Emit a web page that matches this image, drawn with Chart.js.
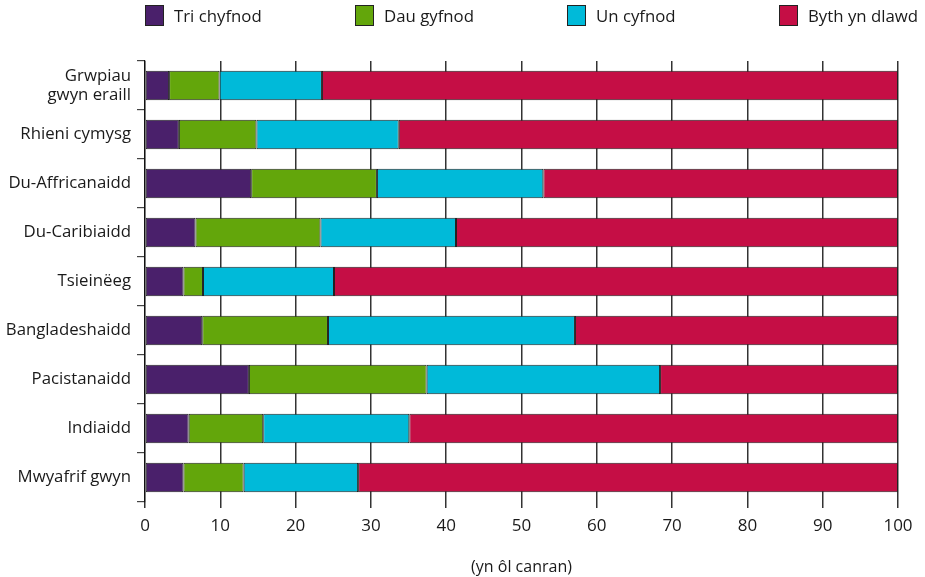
<!DOCTYPE html>
<html>
<head>
<meta charset="utf-8">
<script src="https://cdn.jsdelivr.net/npm/chart.js@4"></script>
<style>
  html, body { margin: 0; padding: 0; background: #fff; }
  #wrap { position: relative; width: 925px; height: 577px; }
  canvas { position: absolute; left: 0; top: 0; }
  .leg { position: absolute; top: 5px; height: 22px; font-family: "Open Sans", sans-serif; font-size: 16.8px; color: #1a1a1a; line-height: 22px; white-space: nowrap; }
  .leg span.box { display: inline-block; width: 19px; height: 21px; vertical-align: top; margin-right: 10px; box-sizing: border-box; border: 1px solid #222; }
</style>
</head>
<body>
<div id="wrap">
  <canvas id="c" width="925" height="577"></canvas>
  <div id="legend"></div>
</div>
<script>
const categories = [["Grwpiau", "gwyn eraill"], "Rhieni cymysg", "Du-Affricanaidd", "Du-Caribiaidd", "Tsieinëeg", "Bangladeshaidd", "Pacistanaidd", "Indiaidd", "Mwyafrif gwyn"];
const seriesNames = ["Tri chyfnod", "Dau gyfnod", "Un cyfnod", "Byth yn dlawd"];
const triChyfnod  = [3.2, 4.5, 14.1, 6.7, 5.1, 7.6, 13.8, 5.8, 5.1];
const dauGyfnod   = [6.7, 10.3, 16.7, 16.6, 2.6, 16.7, 23.6, 9.9, 8.0];
const unCyfnod    = [13.6, 18.9, 22.1, 18.0, 17.4, 32.8, 31.0, 19.4, 15.2];
const bythYnDlawd = [76.5, 66.3, 47.1, 58.7, 74.9, 42.9, 31.6, 64.9, 71.7];
const colors = ["#4a206b", "#63a60b", "#00bad9", "#c50e45"];
const axisTitle = "(yn ôl canran)";
const legendX = [145, 355, 567, 779];

const seriesValues = [triChyfnod, dauGyfnod, unCyfnod, bythYnDlawd];

const legendEl = document.getElementById('legend');
seriesNames.forEach((n, i) => {
  const d = document.createElement('div');
  d.className = 'leg';
  d.style.left = legendX[i] + 'px';
  d.innerHTML = '<span class="box" style="background:' + colors[i] + '"></span>' + n;
  legendEl.appendChild(d);
});

const FONT = "'Open Sans', sans-serif";

new Chart(document.getElementById('c'), {
  type: 'bar',
  data: {
    labels: categories,
    datasets: seriesNames.map((n, i) => ({
      label: n,
      data: seriesValues[i],
      backgroundColor: colors[i],
      borderColor: '#222',
      borderWidth: 1,
      borderSkipped: false,
      barPercentage: 0.6,
      categoryPercentage: 1.0
    }))
  },
  options: {
    indexAxis: 'y',
    responsive: false,
    animation: false,
    maintainAspectRatio: false,
    layout: { padding: { top: 61, right: 27, left: 0, bottom: 0 } },
    plugins: { legend: { display: false }, tooltip: { enabled: false } },
    scales: {
      x: {
        stacked: true,
        min: 0, max: 100,
        ticks: { stepSize: 10, color: '#1a1a1a', font: { family: FONT, size: 17 }, padding: 8 },
        grid: { display: true, drawOnChartArea: true, color: '#333', lineWidth: 1.5, tickLength: 6, drawTicks: true },
        border: { display: false },
        title: { display: true, text: axisTitle, color: '#1a1a1a', font: { family: FONT, size: 16 }, padding: { top: 14, bottom: 0 } },
        afterFit: (s) => { s.height = 75; }
      },
      y: {
        stacked: true,
        ticks: { color: '#1a1a1a', font: { family: FONT, size: 16.8, lineHeight: 1.15 }, padding: 6 },
        grid: { drawOnChartArea: false, offset: true, tickLength: 8, color: '#444', lineWidth: 1.2 },
        border: { display: true, color: '#111', width: 1.2 },
        afterFit: (s) => { s.width = 145; }
      }
    }
  }
});
</script>
</body>
</html>
